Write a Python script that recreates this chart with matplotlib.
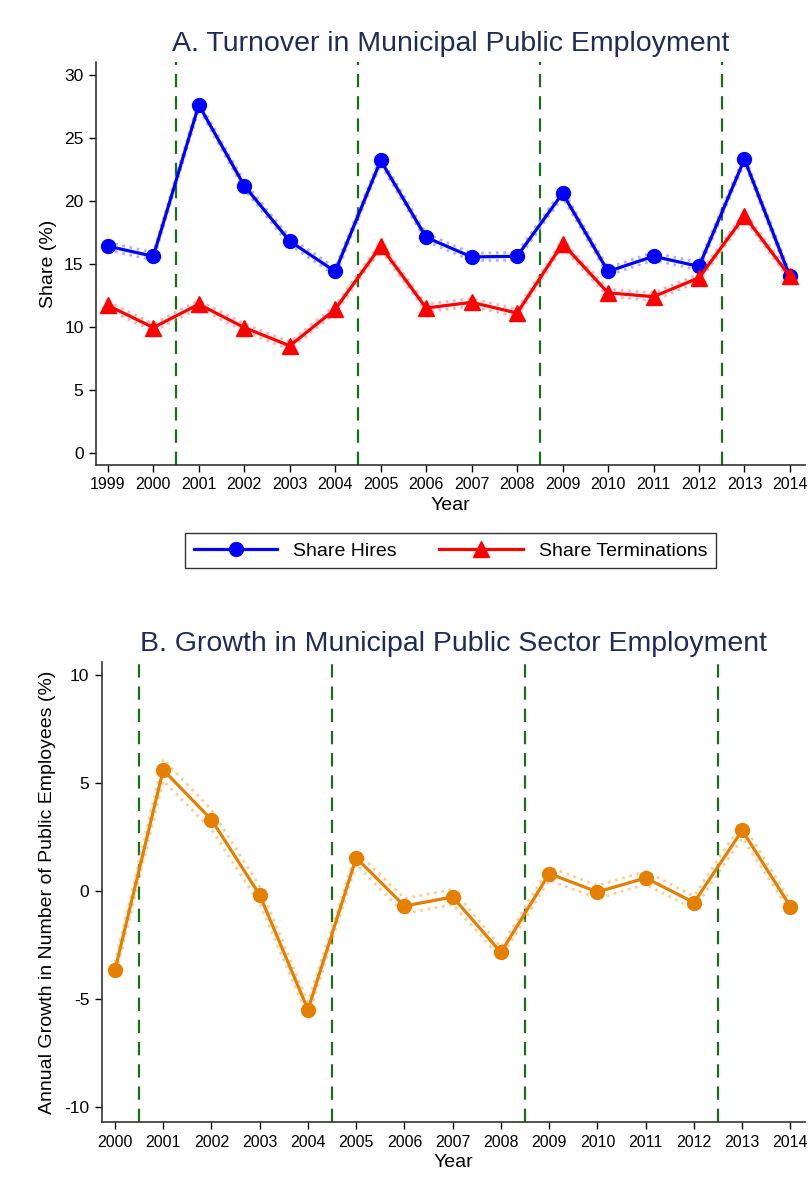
import matplotlib.pyplot as plt

plt.rcParams['axes.unicode_minus'] = False

years_a = list(range(1999, 2015))
hires = [16.4, 15.6, 27.6, 21.2, 16.8, 14.4, 23.2, 17.1, 15.55, 15.6, 20.6, 14.4, 15.6, 14.8, 23.3, 14.0]
hires_ci = [0.3, 0.3, 0.3, 0.3, 0.3, 0.3, 0.3, 0.3, 0.3, 0.3, 0.3, 0.3, 0.3, 0.3, 0.3, 0.3]
terms = [11.7, 9.95, 11.8, 9.95, 8.5, 11.4, 16.4, 11.5, 11.95, 11.1, 16.6, 12.7, 12.4, 13.9, 18.8, 14.0]
terms_ci = [0.3, 0.3, 0.3, 0.3, 0.3, 0.3, 0.3, 0.3, 0.3, 0.3, 0.3, 0.3, 0.3, 0.3, 0.3, 0.3]

years_b = list(range(2000, 2015))
growth = [-3.67, 5.6, 3.3, -0.19, -5.5, 1.53, -0.7, -0.28, -2.85, 0.8, -0.05, 0.6, -0.54, 2.8, -0.73]
growth_ci = [0.35, 0.5, 0.45, 0.4, 0.35, 0.3, 0.35, 0.35, 0.25, 0.3, 0.3, 0.3, 0.3, 0.35, 0.25]

elections = [2000.5, 2004.5, 2008.5, 2012.5]

narrow = ['Liberation Sans', 'DejaVu Sans']
navy = '#1f2d56'
green = '#1a6e1a'
orange = '#e47f00'

fig = plt.figure(figsize=(8.09, 11.92), dpi=100)


def style(ax, years):
    for s in ['top', 'right']:
        ax.spines[s].set_visible(False)
    for s in ['left', 'bottom']:
        ax.spines[s].set_color('#333333')
        ax.spines[s].set_linewidth(1.2)
    ax.set_xticks(years)
    ax.set_xticklabels([str(y) for y in years], family=narrow, fontsize=11.5)
    ax.tick_params(axis='both', direction='out', length=5, width=1, colors='black', pad=4)
    for lab in ax.get_yticklabels():
        lab.set_family(narrow)
        lab.set_fontsize(12.5)
    for x in elections:
        ax.axvline(x, color=green, lw=1.6, ls=(0, (6, 4)), zorder=1)
    ax.set_xlabel('Year', family=narrow, fontsize=14, labelpad=3)


def band(ax, x, y, ci, color):
    lo = [v - c for v, c in zip(y, ci)]
    hi = [v + c for v, c in zip(y, ci)]
    ax.plot(x, lo, color=color, lw=2, ls=':', alpha=0.55, zorder=2)
    ax.plot(x, hi, color=color, lw=2, ls=':', alpha=0.55, zorder=2)


# panel A
ax1 = fig.add_axes([0.1187, 0.6099, 0.8763, 0.338])
band(ax1, years_a, hires, hires_ci, '#6f6fff')
band(ax1, years_a, terms, terms_ci, '#ff6f6f')
ax1.plot(years_a, hires, color='#0000ff', lw=2.3, marker='o', ms=10, zorder=4, label='Share Hires')
ax1.plot(years_a, terms, color='#ff0000', lw=2.3, marker='^', ms=11, zorder=4, label='Share Terminations')
ax1.set_xlim(1998.74, 2014.33)
ax1.set_ylim(-0.95, 31)
ax1.set_yticks([0, 5, 10, 15, 20, 25, 30])
style(ax1, years_a)
ax1.set_ylabel('Share (%)', fontsize=14, family='Liberation Sans', labelpad=5)
ax1.set_title('A. Turnover in Municipal Public Employment', fontsize=20.5,
              color=navy, family='Liberation Sans', pad=8)
leg = ax1.legend(loc='upper center', bbox_to_anchor=(0.5, -0.145), ncol=2,
                 frameon=True, fancybox=False, edgecolor='black',
                 prop={'family': narrow, 'size': 14}, handlelength=4.3,
                 columnspacing=2.2, borderpad=0.45)
leg.get_frame().set_linewidth(1.0)

# panel B
ax2 = fig.add_axes([0.126, 0.0587, 0.869, 0.386])
band(ax2, years_b, growth, growth_ci, '#f5a64a')
ax2.plot(years_b, growth, color=orange, lw=2.3, marker='o', ms=10, zorder=4)
ax2.set_xlim(1999.73, 2014.3)
ax2.set_ylim(-10.7, 10.6)
ax2.set_yticks([-10, -5, 0, 5, 10])
style(ax2, years_b)
ax2.set_ylabel('Annual Growth in Number of Public Employees (%)', fontsize=14,
               family='Liberation Sans', labelpad=6)
ax2.set_title('B. Growth in Municipal Public Sector Employment', fontsize=20.5,
              color=navy, family='Liberation Sans', pad=8)

fig.savefig('out.png', dpi=100)
